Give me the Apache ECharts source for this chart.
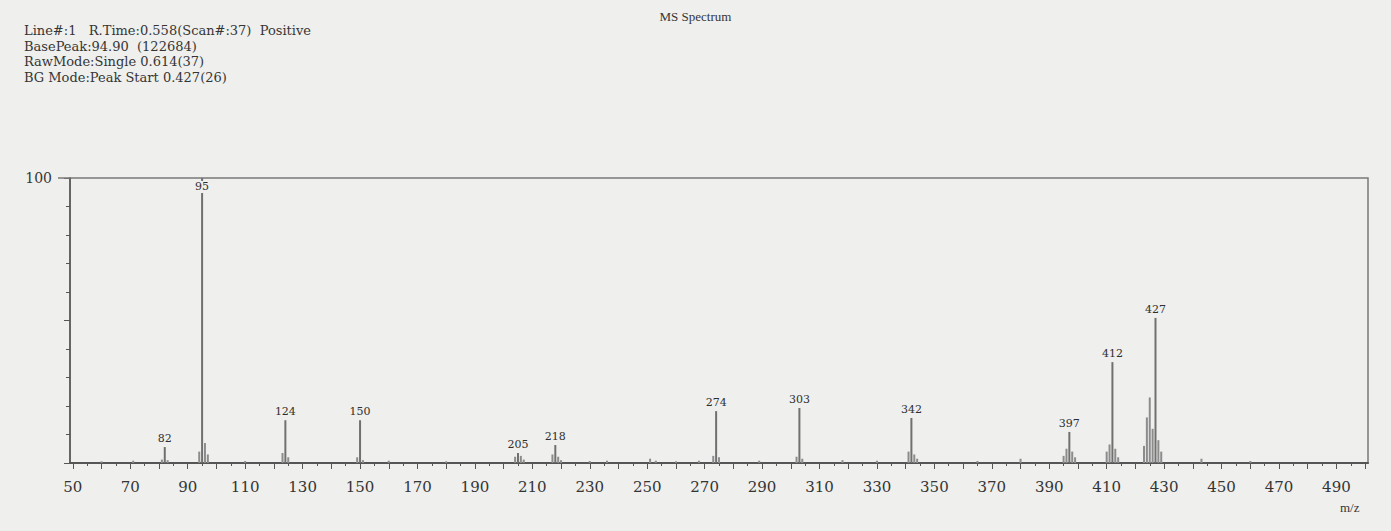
<!DOCTYPE html>
<html>
<head>
<meta charset="utf-8">
<title>MS Spectrum</title>
<script src="https://cdn.jsdelivr.net/npm/echarts@6/dist/echarts.min.js"></script>
<style>
  html, body { margin: 0; padding: 0; background: #efefed; }
  #chart { width: 1391px; height: 531px; }
</style>
</head>
<body>
<div id="chart"></div>
<script>
// ---- chart text ----
const titleText = 'MS Spectrum';
const headerLines = [
  'Line#:1   R.Time:0.558(Scan#:37)  Positive',
  'BasePeak:94.90  (122684)',
  'RawMode:Single 0.614(37)',
  'BG Mode:Peak Start 0.427(26)'
];
const xAxisTitle = 'm/z';

// ---- labelled peaks (m/z, relative intensity %) ----
const labeledMz        = [82,  95,  124, 150, 205, 218, 274,  303,  342,  397,  412,  427];
const labeledIntensity = [5.6, 100, 15,  15,  3.5, 6.3, 18.2, 19.3, 15.8, 10.9, 35.4, 50.9];

// ---- unlabelled minor peaks / isotope shoulders ----
const minorMz        = [60,  71,  81,  83, 94, 96, 97, 110, 123, 125, 149, 151, 160, 180, 204, 206, 207, 217, 219, 220, 230, 236, 251, 253, 260, 268, 273, 275, 289, 302, 304, 318, 330, 341, 343, 344, 365, 380, 395, 396, 398, 399, 410, 411, 413, 414, 423, 424, 425, 426, 428, 429, 443, 460];
const minorIntensity = [0.6, 0.8, 1.2, 1,  4,  7,  3,  0.7, 3.5, 2,   2,   1,   0.8, 0.6, 2.2, 2.5, 1.2, 3,   2.2, 1,   0.7, 0.8, 1.5, 0.8, 0.6, 0.8, 2.5, 2,   0.8, 2.2, 1.5, 1,   0.8, 4,   3,   1.5, 0.7, 1.5, 2.5, 5,   4,   2,   4,   6.5, 5,   2,   6,   16,  23,  12,  8,   4,   1.5, 0.7];

// ---- axes ----
const xMin = 49, xMax = 501;
const xTickLabels = [50, 70, 90, 110, 130, 150, 170, 190, 210, 230, 250, 270, 290, 310, 330, 350, 370, 390, 410, 430, 450, 470, 490];
const yTopLabel = 100;

const majorTicks = [];
const minorTicks = [];
for (let v = 50; v <= 500; v += 10) majorTicks.push(v);
for (let v = 55; v <= 500; v += 10) minorTicks.push(v);

const bg = '#efefed';
const ink = '#353535';
const axisInk = '#555';
const peakInk = '#707070';
const serif = '"Liberation Serif", "DejaVu Serif", serif';
const wideSerif = '"DejaVu Serif", "Liberation Serif", serif';

const minorData = minorMz.map((m, i) => [m, minorIntensity[i]]);
const labeledData = labeledMz.map((m, i) => {
  const item = { value: [m, labeledIntensity[i]] };
  if (labeledIntensity[i] >= 100) {
    // base peak: label sits inside the frame, over the line
    item.label = { position: 'insideTop', distance: 3, backgroundColor: bg, padding: [0, 1, 1, 1] };
  }
  return item;
});

// header block: one text element per line
const headerGraphics = headerLines.map((line, i) => ({
  type: 'text',
  left: 24,
  top: 24 + i * 15.5,
  style: { text: line, font: '13px ' + wideSerif, fill: ink }
}));

const chart = echarts.init(document.getElementById('chart'), null, { renderer: 'svg' });

chart.setOption({
  backgroundColor: bg,
  animation: false,
  title: {
    text: titleText,
    left: 'center',
    top: 5,
    textStyle: { fontFamily: serif, fontSize: 13, fontWeight: 'normal', color: ink }
  },
  grid: {
    left: 70, right: 23, top: 178, bottom: 68,
    show: true, borderColor: '#7a7a7a', borderWidth: 1.5, backgroundColor: 'transparent'
  },
  xAxis: [
    {
      type: 'value', min: xMin, max: xMax,
      splitLine: { show: false },
      axisLine: { show: true, lineStyle: { color: axisInk, width: 2 } },
      axisTick: { show: true, customValues: majorTicks, length: 6, lineStyle: { color: axisInk } },
      axisLabel: {
        customValues: xTickLabels, margin: 16, color: ink,
        fontFamily: wideSerif, fontSize: 15
      }
    },
    {
      type: 'value', min: xMin, max: xMax, position: 'bottom',
      splitLine: { show: false },
      axisLine: { show: false },
      axisTick: { show: true, customValues: minorTicks, length: 3, lineStyle: { color: axisInk } },
      axisLabel: { show: false }
    }
  ],
  yAxis: [
    {
      type: 'value', min: 0, max: 100, interval: 50,
      splitLine: { show: false },
      axisLine: { show: true, lineStyle: { color: axisInk, width: 1.5 } },
      axisTick: { show: true, length: 6, lineStyle: { color: axisInk } },
      minorTick: { show: true, splitNumber: 5, length: 4, lineStyle: { color: axisInk } },
      axisLabel: {
        customValues: [yTopLabel], margin: 18, color: ink,
        fontFamily: wideSerif, fontSize: 14
      }
    },
    {
      type: 'value', min: 0, max: 100, position: 'left',
      splitLine: { show: false },
      axisLine: { show: false },
      axisTick: { show: true, customValues: [yTopLabel], length: 12, lineStyle: { color: '#7a7a7a', width: 1.5 } },
      axisLabel: { show: false }
    }
  ],
  series: [
    {
      name: 'minor',
      type: 'bar',
      xAxisIndex: 0, yAxisIndex: 0,
      barWidth: 2, barGap: '-100%',
      itemStyle: { color: '#8c8c8c' },
      data: minorData,
      silent: true
    },
    {
      name: 'peaks',
      type: 'bar',
      xAxisIndex: 0, yAxisIndex: 0,
      barWidth: 2, barGap: '-100%',
      itemStyle: { color: peakInk },
      label: {
        show: true, position: 'top', distance: 3,
        fontFamily: wideSerif, fontSize: 11, color: '#2e2e2e',
        formatter: p => String(p.value[0])
      },
      data: labeledData,
      silent: true
    }
  ],
  graphic: headerGraphics.concat([
    {
      type: 'text', left: 1340, top: 501,
      style: { text: xAxisTitle, font: '13px ' + serif, fill: ink }
    }
  ])
});
</script>
</body>
</html>
